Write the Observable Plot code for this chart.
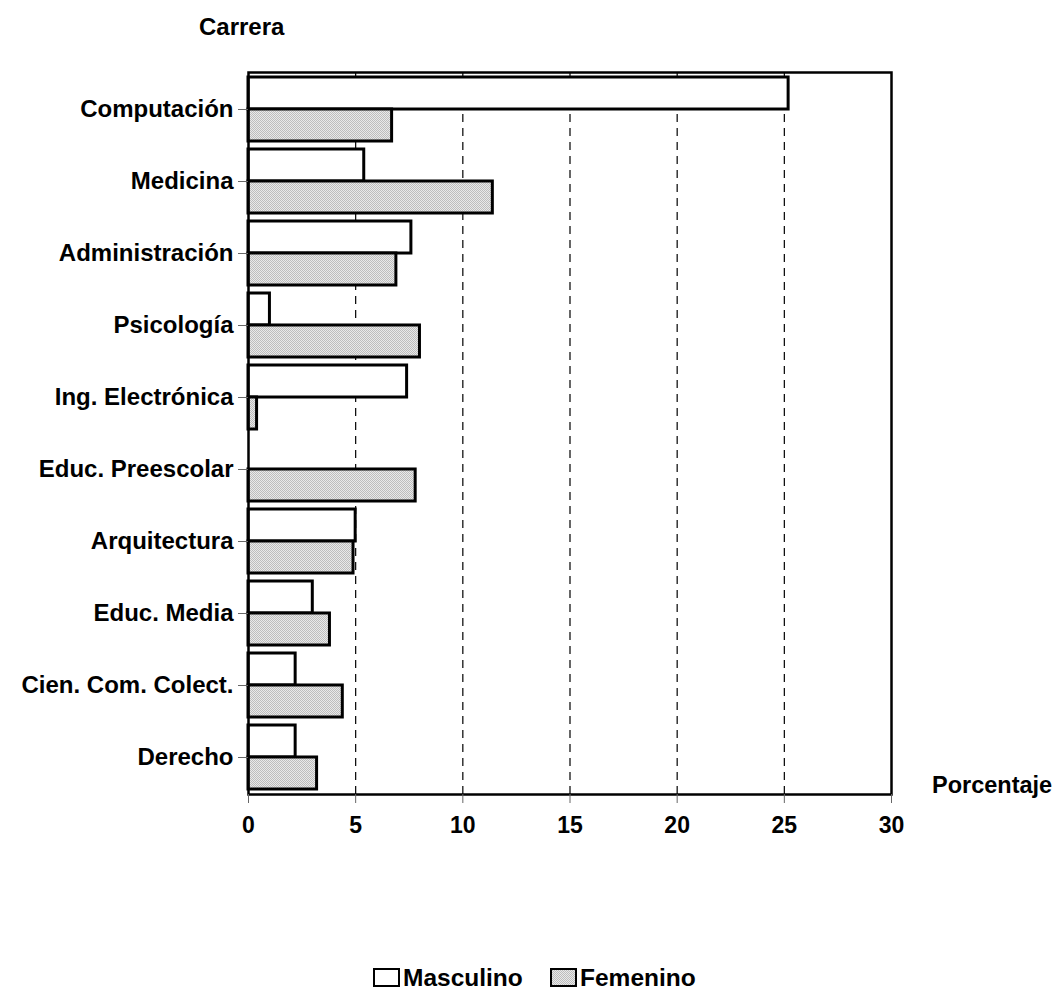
<!DOCTYPE html>
<html>
<head>
<meta charset="utf-8">
<script src="https://cdn.jsdelivr.net/npm/d3@7"></script>
<script src="https://cdn.jsdelivr.net/npm/@observablehq/plot@0.6"></script>
<style>
  html, body { margin: 0; padding: 0; background: #fff; }
</style>
</head>
<body>
<div id="chart"></div>
<script>
const categories = ["Computación", "Medicina", "Administración", "Psicología", "Ing. Electrónica",
  "Educ. Preescolar", "Arquitectura", "Educ. Media", "Cien. Com. Colect.", "Derecho"];
const masculino = [25.2, 5.4, 7.6, 1.0, 7.4, 0, 5.0, 3.0, 2.2, 2.2];
const femenino = [6.7, 11.4, 6.9, 8.0, 0.4, 7.8, 4.9, 3.8, 4.4, 3.2];
const xTicks = [0, 5, 10, 15, 20, 25, 30];
const gridTicks = [5, 10, 15, 20, 25];
const seriesNames = ["Masculino", "Femenino"];

const W = 1061, H = 991;
const mTop = 72, mBottom = 197, mLeft = 248, mRight = 170;
const padInner = 0.114;
const bw = ((H - mTop - mBottom) / categories.length) * (1 - padInner);

const dataM = categories.map((c, i) => ({carrera: c, valor: masculino[i]}));
const dataF = categories.map((c, i) => ({carrera: c, valor: femenino[i]}));

const font = "'Liberation Sans', Arial, Helvetica, sans-serif";

const plot = Plot.plot({
  width: W,
  height: H,
  marginTop: mTop,
  marginBottom: mBottom,
  marginLeft: mLeft,
  marginRight: mRight,
  style: {fontFamily: font, fontSize: "23px", fontWeight: "bold", color: "black", background: "white"},
  x: {domain: [0, 30]},
  y: {domain: categories, paddingInner: padInner, paddingOuter: padInner / 2},
  marks: [
    Plot.ruleX(gridTicks, {stroke: "black", strokeWidth: 1.2, strokeDasharray: "8,6"}),
    Plot.barX(dataM, {y: "carrera", x: "valor", fill: "white", stroke: "black", strokeWidth: 3, insetTop: 0, insetBottom: bw / 2}),
    Plot.barX(dataF, {y: "carrera", x: "valor", fill: "url(#stip)", stroke: "black", strokeWidth: 3, insetTop: bw / 2, insetBottom: 0}),
    Plot.frame({stroke: "black", strokeWidth: 2.5}),
    Plot.axisX({ticks: xTicks, tickSize: 9, tickPadding: 13, stroke: "#666", fill: "black", label: null, tickFormat: d => String(d)}),
    Plot.axisY({tickSize: 10, tickPadding: 5, stroke: "#666", fill: "black", label: null, fontSize: 24})
  ]
});

const svg = d3.select(plot);
const defs = svg.insert("defs", ":first-child");
const pat = defs.append("pattern").attr("id", "stip").attr("width", 2).attr("height", 2)
  .attr("patternUnits", "userSpaceOnUse");
pat.append("rect").attr("width", 2).attr("height", 2).attr("fill", "#e9e9e9");
pat.append("rect").attr("x", 0).attr("y", 0).attr("width", 1).attr("height", 1).attr("fill", "#bdbdbd");
pat.append("rect").attr("x", 1).attr("y", 1).attr("width", 1).attr("height", 1).attr("fill", "#bdbdbd");

const g = svg.append("g").attr("font-family", font).attr("font-weight", "bold")
  .attr("fill", "black").attr("text-anchor", "start");
g.append("text").attr("x", 199).attr("y", 35).attr("font-size", 24).text("Carrera");
g.append("text").attr("x", 932).attr("y", 793).attr("font-size", 23.5).text("Porcentaje");

// legend
const legend = g.append("g");
const legFills = ["white", "url(#stip)"];
const legX = [374, 551];
seriesNames.forEach((name, i) => {
  legend.append("rect").attr("x", legX[i]).attr("y", 969).attr("width", 25).attr("height", 17)
    .attr("fill", legFills[i]).attr("stroke", "black").attr("stroke-width", 2);
  legend.append("text").attr("x", legX[i] + 29).attr("y", 986).attr("font-size", 24.5).text(name);
});

document.getElementById("chart").appendChild(plot);
</script>
</body>
</html>
